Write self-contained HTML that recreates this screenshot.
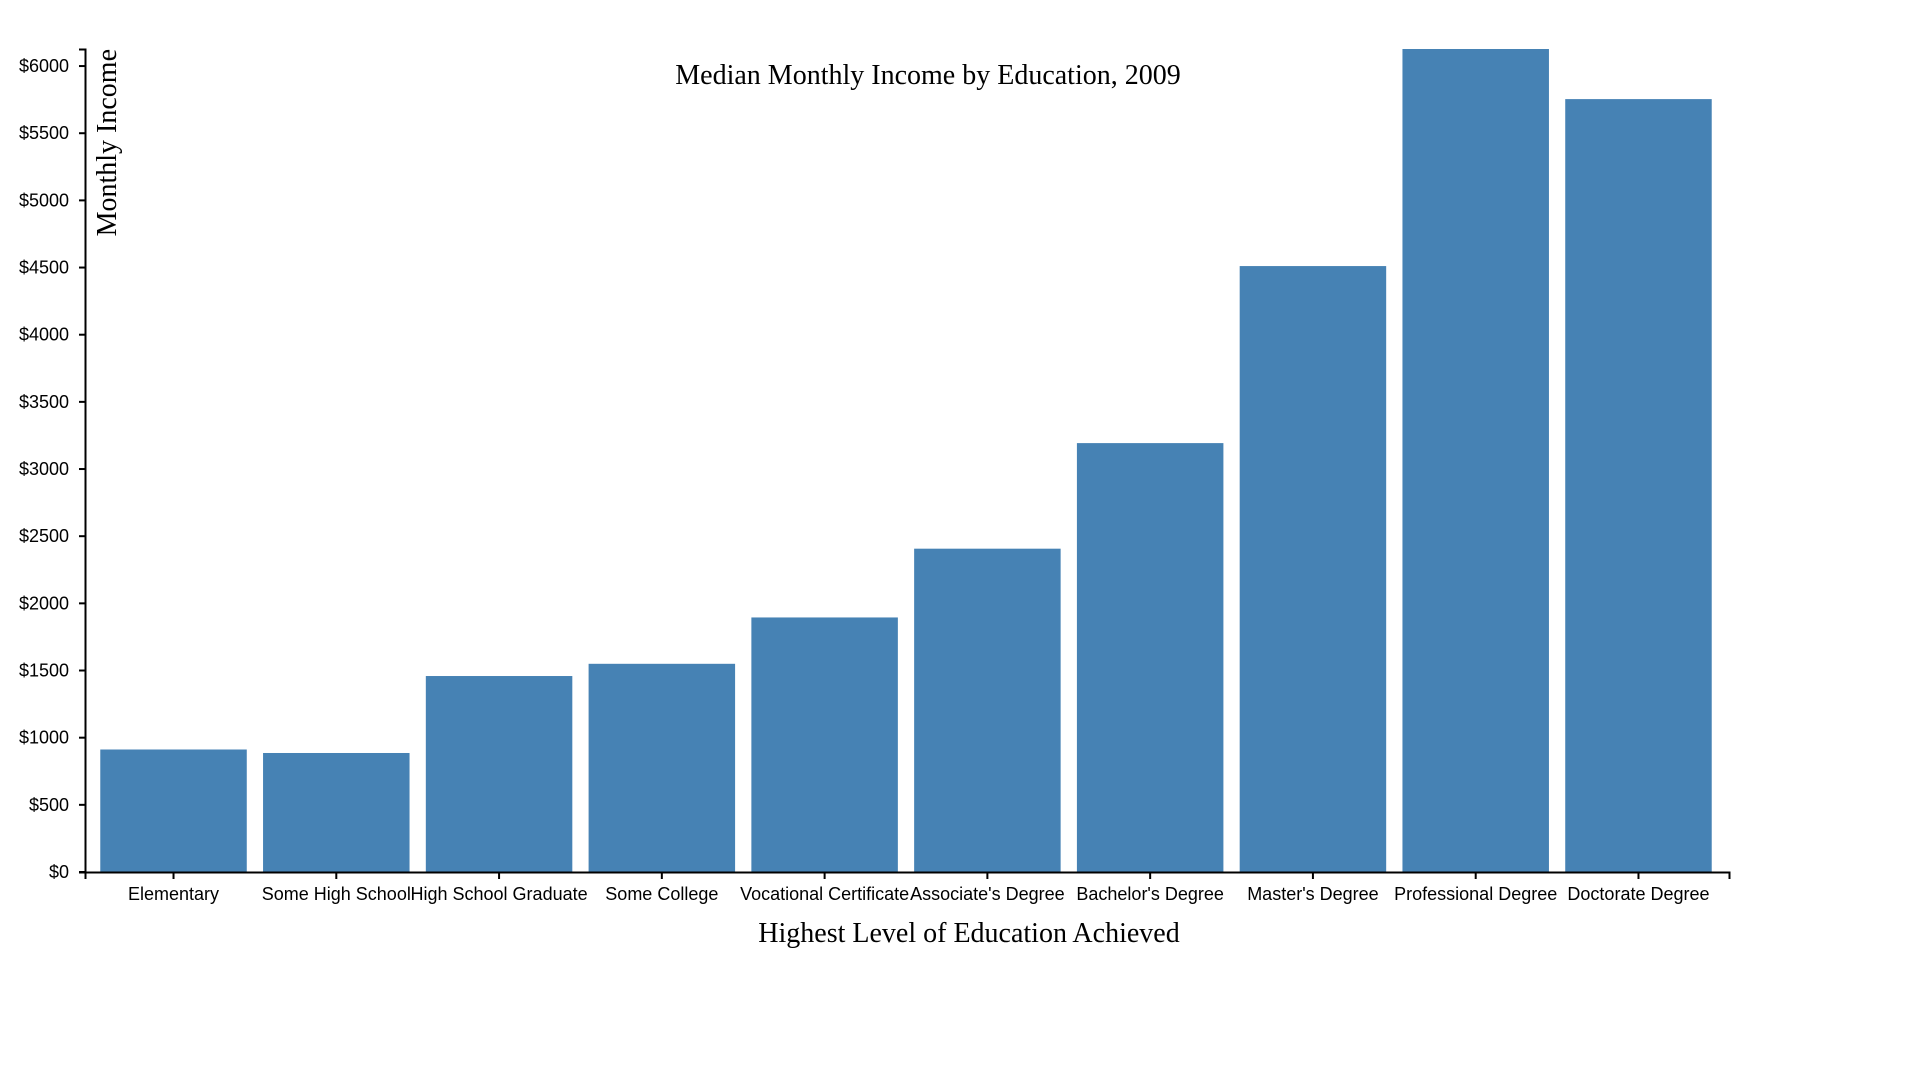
<!DOCTYPE html>
<html><head><meta charset="utf-8"><style>
html,body{margin:0;padding:0;background:#fff;}
svg{display:block;}
.tick text{font-family:"Liberation Sans",sans-serif;font-size:18px;fill:#000;}
</style></head><body>
<svg id="chart" width="1920" height="1080"></svg>
<script>
const categories = ["Elementary","Some High School","High School Graduate","Some College","Vocational Certificate","Associate's Degree","Bachelor's Degree","Master's Degree","Professional Degree","Doctorate Degree"];
const incomes = [912, 886, 1459, 1550, 1895, 2407, 3193, 4511, 6127, 5754];
const yTicks = [0,500,1000,1500,2000,2500,3000,3500,4000,4500,5000,5500,6000];

const NS = "http://www.w3.org/2000/svg";
const svg = document.getElementById("chart");
const L = 85, R = 1729, T = 49, B = 872;
const yMax = Math.max(...incomes);
function y(v){ return B - (v / yMax) * (B - T); }
const n = categories.length;
const step = (R - L) / (n - 0.1 + 0.2);
const bw = step * 0.9;
function xBand(i){ return L - 1 + step * 0.1 + i * step; }
function mk(tag, attrs, parent){
  const e = document.createElementNS(NS, tag);
  for (const k in attrs) e.setAttribute(k, attrs[k]);
  (parent || svg).appendChild(e);
  return e;
}
// bars
const barsG = mk("g", {});


incomes.forEach((v, i) => {
  const r = mk("rect", {x: xBand(i), y: y(v), width: bw, height: B - y(v), fill: "steelblue"}, barsG);
  
  
});
// y axis
const yAxis = mk("g", {});


mk("path", {d: `M${L-6},${T+0.5}H${L+0.5}V${B+0.5}H${L-6}`, fill: "none", stroke: "#000", "stroke-width": 2}, yAxis);
yTicks.forEach(t => {
  const g = mk("g", {class: "tick"}, yAxis);
  
  
  mk("line", {x1: L-6, x2: L, y1: y(t), y2: y(t), stroke: "#000", "stroke-width": 2}, g);
  const tx = mk("text", {x: L-16, y: y(t)+6, "text-anchor": "end"}, g);
  tx.textContent = "$" + t;
});
// x axis
const xAxis = mk("g", {});


mk("path", {d: `M${L+0.5},${B+7}V${B+0.5}H${R+0.5}V${B+7}`, fill: "none", stroke: "#000", "stroke-width": 2}, xAxis);
categories.forEach((c, i) => {
  const cx = xBand(i) + bw / 2;
  const g = mk("g", {class: "tick"}, xAxis);
  
  
  mk("line", {x1: cx, x2: cx, y1: B, y2: B+7, stroke: "#000", "stroke-width": 2}, g);
  const tx = mk("text", {x: cx, y: B+28, "text-anchor": "middle"}, g);
  tx.textContent = c;
});
</script>
<svg style="position:absolute;left:0;top:0" width="1920" height="1080">
  <text x="928" y="84" text-anchor="middle" font-family="Liberation Serif, serif" font-size="28">Median Monthly Income by Education, 2009</text>
  <text x="969" y="942" text-anchor="middle" font-family="Liberation Serif, serif" font-size="28">Highest Level of Education Achieved</text>
  <text transform="translate(116,49) rotate(-90)" text-anchor="end" font-family="Liberation Serif, serif" font-size="28">Monthly Income</text>
</svg>
</body></html>
